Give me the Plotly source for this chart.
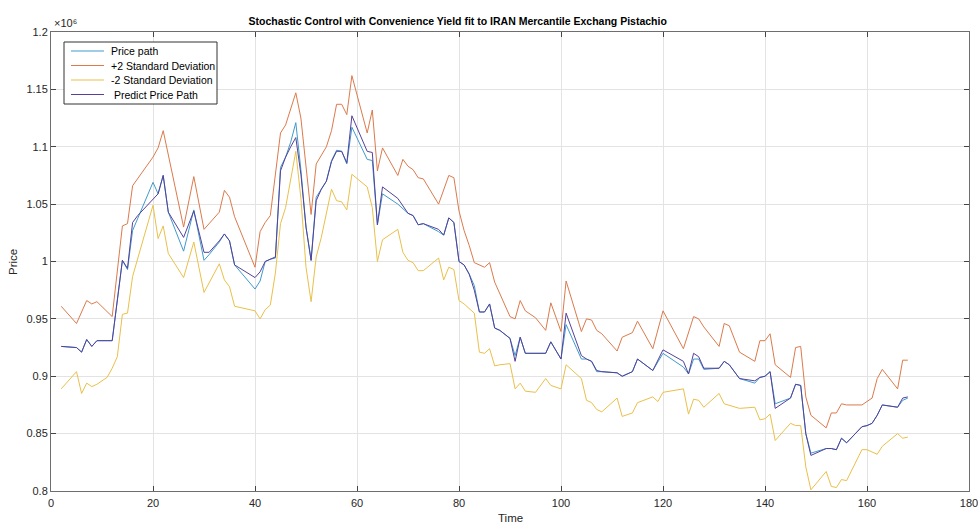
import plotly.graph_objects as go

# Values in units of 10^6
upper_x = [2,5,7,8,9,12,14,15,16,20,
           21,22,26,28,30,33,34,35,36,40,
           41,42,43,45,46,48,49,51,52,53,
           54,55,56,57,58,59,62,63,64,65,
           68,69,70,71,72,73,76,78,79,80,
           81,82,83,85,86,87,90,91,92,93,
           94,95,97,98,100,101,104,105,106,107,
           108,111,112,114,115,118,120,124,126,127,
           128,131,132,133,135,138,139,140,141,142,
           145,146,147,148,149,152,153,154,155,156,
           159,161,162,163,166,167,168]
upper_y = [0.961,0.946,0.966,0.963,0.965,0.952,1.031,1.033,1.066,1.091,
           1.099,1.114,1.030,1.074,1.028,1.043,1.062,1.056,1.039,0.995,
           1.026,1.034,1.040,1.112,1.119,1.147,1.125,1.041,1.085,1.092,
           1.100,1.114,1.137,1.137,1.128,1.162,1.112,1.132,1.079,1.099,
           1.075,1.089,1.083,1.080,1.073,1.072,1.050,1.075,1.073,1.044,
           1.027,1.014,0.999,0.995,0.999,0.982,0.952,0.950,0.966,0.957,
           0.954,0.951,0.940,0.964,0.939,0.983,0.939,0.950,0.949,0.940,
           0.937,0.922,0.934,0.938,0.948,0.924,0.957,0.924,0.952,0.950,
           0.943,0.926,0.946,0.944,0.921,0.913,0.931,0.931,0.937,0.910,
           0.899,0.925,0.926,0.882,0.866,0.855,0.868,0.868,0.876,0.875,
           0.875,0.881,0.898,0.906,0.889,0.914,0.914]

lower_x = [2,5,6,7,8,9,11,12,13,14,
           15,16,20,21,22,23,26,28,30,33,
           34,35,36,40,41,42,43,44,45,46,
           48,49,50,51,52,53,55,56,57,58,
           59,62,63,64,65,68,69,70,71,72,
           73,76,77,78,79,80,81,82,83,84,
           85,86,87,88,90,91,92,93,95,97,
           98,100,101,104,105,106,107,108,111,112,
           114,115,118,119,120,124,125,126,127,128,
           131,132,135,138,139,140,141,142,145,146,
           147,148,149,152,153,154,155,156,159,160,
           162,163,166,167,168]
lower_y = [0.889,0.904,0.885,0.894,0.891,0.893,0.899,0.907,0.917,0.954,
           0.955,0.987,1.049,1.020,1.031,1.007,0.986,1.017,0.973,0.998,
           0.984,0.978,0.961,0.957,0.950,0.958,0.962,0.990,1.033,1.047,
           1.096,1.055,0.995,0.965,1.004,1.021,1.063,1.053,1.052,1.045,
           1.076,1.065,1.047,1.000,1.019,1.028,1.008,1.001,0.999,0.992,
           0.992,1.003,0.984,0.995,0.993,0.966,0.963,0.959,0.955,0.921,
           0.920,0.924,0.909,0.910,0.911,0.889,0.894,0.887,0.886,0.898,
           0.892,0.889,0.910,0.898,0.879,0.877,0.871,0.869,0.881,0.865,
           0.868,0.877,0.882,0.878,0.886,0.889,0.867,0.880,0.879,0.873,
           0.885,0.876,0.872,0.873,0.862,0.863,0.867,0.844,0.859,0.857,
           0.857,0.821,0.801,0.817,0.804,0.803,0.810,0.809,0.836,0.836,
           0.832,0.839,0.850,0.846,0.847]

price_x = [2,5,6,7,8,9,12,14,15,16,
           20,21,22,23,26,28,30,31,33,34,
           35,36,40,41,42,43,44,45,46,47,
           48,49,50,51,52,53,54,55,56,57,
           58,59,62,63,64,65,68,70,71,72,
           73,76,77,78,79,80,81,82,83,84,
           85,86,87,88,90,91,92,93,96,97,
           98,100,101,104,105,106,107,108,111,112,
           114,115,118,120,124,125,126,127,128,131,
           132,133,135,138,139,140,141,142,145,146,
           147,148,149,152,153,154,155,156,159,160,
           161,162,163,166,167,168]
price_y = [0.926,0.925,0.921,0.932,0.926,0.931,0.931,1.001,0.993,1.027,
           1.069,1.059,1.075,1.043,1.009,1.045,1.001,1.006,1.017,1.024,
           1.018,0.997,0.976,0.983,1.000,1.002,1.003,1.082,1.091,1.104,
           1.121,1.080,1.030,1.001,1.056,1.063,1.070,1.088,1.097,1.096,
           1.085,1.117,1.089,1.088,1.032,1.059,1.050,1.042,1.040,1.032,
           1.033,1.026,1.023,1.038,1.034,1.000,0.997,0.989,0.979,0.956,
           0.956,0.963,0.942,0.940,0.933,0.918,0.934,0.920,0.920,0.920,
           0.930,0.915,0.945,0.915,0.915,0.913,0.904,0.904,0.903,0.900,
           0.904,0.915,0.905,0.920,0.908,0.902,0.915,0.915,0.906,0.907,
           0.913,0.910,0.898,0.894,0.899,0.900,0.904,0.876,0.881,0.893,
           0.892,0.850,0.833,0.837,0.837,0.836,0.846,0.842,0.856,0.857,
           0.859,0.866,0.875,0.873,0.879,0.881]

predict_x = [2,5,6,7,8,9,12,14,15,16,
             17,21,22,23,26,28,30,31,33,34,
             35,36,40,41,42,43,44,45,46,47,
             48,49,50,51,52,53,54,55,56,57,
             58,59,62,63,64,65,68,70,71,72,
             73,76,77,78,79,80,81,82,83,84,
             85,86,87,88,90,91,92,93,96,97,
             98,100,101,104,105,106,107,108,111,112,
             114,115,118,120,124,125,126,127,128,131,
             132,133,135,138,139,140,141,142,145,146,
             147,148,149,152,153,154,155,156,159,160,
             161,162,163,166,167,168]
predict_y = [0.926,0.925,0.921,0.932,0.926,0.931,0.931,1.001,0.994,1.034,
             1.040,1.059,1.075,1.043,1.021,1.044,1.008,1.008,1.018,1.024,
             1.018,0.997,0.986,0.991,1.000,1.002,1.004,1.079,1.091,1.100,
             1.108,1.076,1.030,1.001,1.053,1.063,1.070,1.087,1.096,1.096,
             1.086,1.127,1.096,1.095,1.032,1.065,1.055,1.042,1.040,1.032,
             1.033,1.028,1.023,1.038,1.034,1.000,0.997,0.989,0.975,0.956,
             0.956,0.963,0.942,0.940,0.933,0.913,0.934,0.920,0.920,0.920,
             0.930,0.915,0.955,0.918,0.915,0.913,0.905,0.904,0.903,0.900,
             0.904,0.915,0.905,0.923,0.913,0.902,0.920,0.917,0.907,0.907,
             0.913,0.910,0.898,0.896,0.899,0.900,0.904,0.872,0.881,0.893,
             0.892,0.850,0.831,0.837,0.837,0.836,0.846,0.842,0.856,0.857,
             0.859,0.866,0.875,0.873,0.881,0.882]

series_names = ["Price path", "+2 Standard Deviation", "-2 Standard Deviation", " Predict Price Path"]
series_colors = ["#3f9bcc", "#dc7a4c", "#eac04a", "#55419a"]

x_ticks = [0, 20, 40, 60, 80, 100, 120, 140, 160, 180]
y_ticks = [0.8, 0.85, 0.9, 0.95, 1.0, 1.05, 1.1, 1.15, 1.2]
y_tick_labels = ["0.8", "0.85", "0.9", "0.95", "1", "1.05", "1.1", "1.15", "1.2"]

FONT = "Liberation Sans, Arial, sans-serif"
W, H = 978, 526
ML, MR, MT, MB = 51, 9, 32, 35
PW, PH = W - ML - MR, H - MT - MB


def px2x(px):
    return (px - ML) / PW


def py2y(py):
    return 1 - (py - MT) / PH


fig = go.Figure()
data = [(price_x, price_y), (upper_x, upper_y), (lower_x, lower_y), (predict_x, predict_y)]
for (xs, ys), name, col in zip(data, series_names, series_colors):
    fig.add_trace(go.Scatter(x=xs, y=ys, mode="lines", name=name.strip(),
                             line=dict(color=col, width=1), showlegend=False))

# Legend box drawn like the MATLAB legend (compact rows)
shapes = [dict(type="rect", xref="paper", yref="paper",
               x0=px2x(64), x1=px2x(217), y0=py2y(104), y1=py2y(42),
               line=dict(color="#333333", width=1), fillcolor="white", layer="above")]
annotations = []
row_y = [51, 65.5, 80, 94.5]
for name, col, ry in zip(series_names, series_colors, row_y):
    shapes.append(dict(type="line", xref="paper", yref="paper",
                       x0=px2x(71), x1=px2x(104), y0=py2y(ry), y1=py2y(ry),
                       line=dict(color=col, width=1.2), layer="above"))
    annotations.append(dict(text=name.replace(" ", "&nbsp;", 1) if name.startswith(" ") else name,
                            xref="paper", yref="paper", x=px2x(109), y=py2y(ry),
                            xanchor="left", yanchor="middle", showarrow=False,
                            font=dict(size=10.5, color="#000000")))

annotations.append(dict(text="×10⁶", xref="paper", yref="paper", x=px2x(52), y=py2y(23),
                        xanchor="left", yanchor="middle", showarrow=False,
                        font=dict(size=11, color="#262626")))
# Axis titles
annotations.append(dict(text="Time", xref="paper", yref="paper", x=px2x(510), y=py2y(518),
                        xanchor="center", yanchor="middle", showarrow=False,
                        font=dict(size=11.5, color="#262626")))
annotations.append(dict(text="Price", xref="paper", yref="paper", x=px2x(13), y=py2y(262),
                        xanchor="center", yanchor="middle", showarrow=False, textangle=-90,
                        font=dict(size=11.5, color="#262626")))

fig.update_layout(
    width=W, height=H,
    margin=dict(l=ML, r=MR, t=MT, b=MB, autoexpand=False),
    paper_bgcolor="white", plot_bgcolor="white",
    font=dict(family=FONT, size=11, color="#262626"),
    title=dict(text="<b>Stochastic Control with Convenience Yield fit to IRAN Mercantile Exchang Pistachio</b>",
               x=457.7 / W, xanchor="center", y=1 - 21 / H, yanchor="middle",
               font=dict(family=FONT, size=10.5, color="#000000")),
    showlegend=False,
    shapes=shapes,
    annotations=annotations,
)

fig.update_xaxes(range=[0, 180], tickvals=x_ticks, showgrid=True, gridcolor="#e3e3e3", gridwidth=1,
                 showline=True, linecolor="#6e6e6e", linewidth=1, mirror="ticks",
                 ticks="inside", ticklen=5, tickcolor="#444444", zeroline=False, automargin=False,
                 ticklabeloverflow="allow", showticklabels=True, ticklabelstandoff=2)
fig.update_yaxes(range=[0.8, 1.2], tickvals=y_ticks, ticktext=y_tick_labels, showgrid=True,
                 gridcolor="#e3e3e3", gridwidth=1,
                 showline=True, linecolor="#6e6e6e", linewidth=1, mirror="ticks",
                 ticks="inside", ticklen=5, tickcolor="#444444", zeroline=False, automargin=False,
                 ticklabeloverflow="allow")

fig.write_html("out.html")
